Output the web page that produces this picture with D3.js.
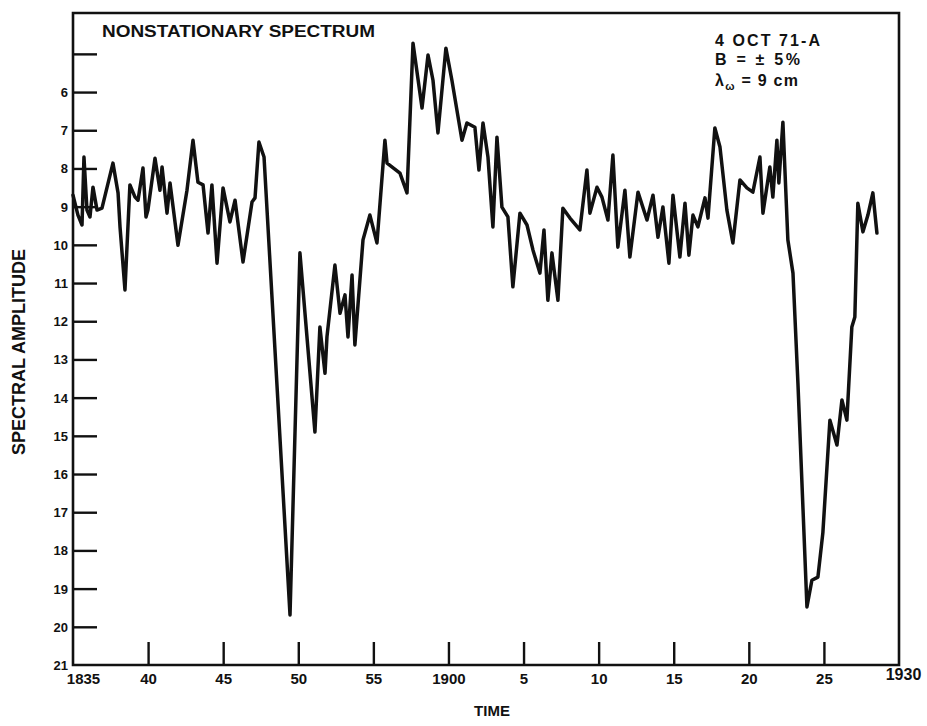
<!DOCTYPE html>
<html>
<head>
<meta charset="utf-8">
<script src="https://cdn.jsdelivr.net/npm/d3@7/dist/d3.min.js"></script>
<style>
  html, body { margin: 0; padding: 0; background: #fff; overflow: hidden; }
  svg { display: block; font-family: "Liberation Sans", Arial, sans-serif; }
</style>
</head>
<body>
<div id="chart"></div>
<script>
// minutes after 18:35
const times = [
  0, 0.33, 0.6, 0.73, 0.93, 1.13, 1.33, 1.6, 1.93, 2.66, 3.0, 3.13, 3.46, 3.79, 4.13, 4.33, 4.66, 4.86, 4.99,
  5.46, 5.79, 5.93, 6.26, 6.46, 6.99, 7.59, 7.99, 8.32, 8.66, 8.99, 9.25, 9.59, 9.99, 10.45, 10.79, 11.32,
  11.92, 12.12, 12.38, 12.72, 14.45, 15.11, 16.11, 16.44, 16.78, 16.91, 17.44, 17.78, 18.11, 18.31, 18.58,
  18.77, 19.31, 19.77, 20.24, 20.77, 20.91, 21.77, 22.24, 22.64, 23.24, 23.64, 23.97, 24.3, 24.83, 25.23,
  25.9, 26.23, 26.76, 27.03, 27.3, 27.63, 27.96, 28.23, 28.56, 28.96, 29.29, 29.76, 30.23, 30.63, 31.09,
  31.36, 31.62, 31.89, 32.29, 32.62, 33.09, 33.75, 34.22, 34.42, 34.89, 35.22, 35.62, 35.95, 36.28, 36.75,
  37.08, 37.62, 38.22, 38.62, 38.95, 39.28, 39.68, 39.95, 40.41, 40.75, 41.01, 41.28, 41.61, 42.08, 42.28,
  42.74, 43.08, 43.54, 43.94, 44.41, 44.87, 45.27, 45.74, 45.94, 46.4, 46.6, 46.87, 47.0, 47.27, 47.6,
  47.94, 48.27, 48.87, 49.2, 49.6, 49.93, 50.4, 50.87, 51.2, 51.53, 51.86, 52.06, 52.26, 52.6, 52.93,
  53.26, 53.53
];
const amplitude = [
  8.70, 9.22, 9.48, 7.70, 9.09, 9.27, 8.49, 9.09, 9.04, 7.86, 8.64, 9.53, 11.18, 8.43, 8.75, 8.83, 7.99, 9.27, 9.09,
  7.73, 8.57, 7.96, 9.17, 8.38, 10.01, 8.57, 7.26, 8.36, 8.43, 9.69, 8.43, 10.48, 8.51, 9.40, 8.83, 10.45,
  8.88, 8.77, 7.31, 7.70, 19.69, 10.21, 14.90, 12.15, 13.36, 12.41, 10.53, 11.79, 11.31, 12.41, 10.79,
  12.62, 9.87, 9.22, 9.95, 7.26, 7.86, 8.12, 8.64, 4.72, 6.42, 5.03, 5.69, 7.07, 4.85, 5.69,
  7.26, 6.81, 6.92, 8.04, 6.81, 7.70, 9.53, 7.18, 9.01, 9.27, 11.10, 9.17, 9.48, 10.14, 10.74,
  9.61, 11.45, 10.21, 11.45, 9.04, 9.30, 9.61, 8.04, 9.17, 8.49, 8.75, 9.35, 7.65, 10.06, 8.57,
  10.32, 8.62, 9.35, 8.70, 9.80, 9.01, 10.48, 8.70, 10.32, 8.91, 10.27, 9.22, 9.53, 8.77, 9.30,
  6.94, 7.44, 9.09, 9.95, 8.30, 8.51, 8.62, 7.70, 9.17, 7.96, 8.75, 7.26, 8.38, 6.79, 9.87,
  10.74, 13.62, 19.48, 18.78, 18.70, 17.54, 14.59, 15.24, 14.06, 14.59, 12.15, 11.89, 8.91, 9.66, 9.22,
  8.64, 9.69
];

const xTickValues = [0, 5, 10, 15, 20, 25, 30, 35, 40, 45, 50, 55];
const xTickLabels = ['1835', '40', '45', '50', '55', '1900', '5', '10', '15', '20', '25', '1930'];
const yTickValues = [5, 6, 7, 8, 9, 10, 11, 12, 13, 14, 15, 16, 17, 18, 19, 20];
const yLabelValues = [6, 7, 8, 9, 10, 11, 12, 13, 14, 15, 16, 17, 18, 19, 20, 21];

const title = 'NONSTATIONARY SPECTRUM';
const notes = ['4 OCT 71-A', 'B = \u00b1 5%'];

const width = 927, height = 726;
const margin = { top: 13, right: 28, bottom: 61, left: 73 };
const innerWidth = width - margin.left - margin.right;
const innerHeight = height - margin.top - margin.bottom;
const ink = '#111';

const svg = d3.select('#chart')
  .append('svg')
  .attr('width', width)
  .attr('height', height);

const g = svg.append('g')
  .attr('transform', `translate(${margin.left},${margin.top})`);

const x = d3.scaleLinear().domain([0, 55]).range([0, innerWidth]);
const y = d3.scaleLinear().domain([3.93, 21]).range([0, innerHeight]);

// y tick marks (pointing inward)
g.append('g')
  .attr('class', 'y-ticks')
  .call(d3.axisLeft(y).tickValues(yTickValues).tickSizeInner(-24).tickSizeOuter(0))
  .call(s => s.select('.domain').remove())
  .call(s => s.selectAll('text').remove())
  .selectAll('line')
  .attr('stroke', ink)
  .attr('stroke-width', 2.4);

// y tick labels
g.append('g')
  .attr('class', 'y-labels')
  .call(d3.axisLeft(y).tickValues(yLabelValues).tickSize(0).tickPadding(5).tickFormat(d3.format('d')))
  .call(s => s.select('.domain').remove())
  .call(s => s.selectAll('line').remove())
  .selectAll('text')
  .attr('fill', ink)
  .attr('font-family', null)
  .attr('dy', 4.5)
  .style('font-size', '13px')
  .style('font-weight', 'bold');

// x tick marks (pointing up)
g.append('g')
  .attr('class', 'x-ticks')
  .attr('transform', `translate(0,${innerHeight})`)
  .call(d3.axisBottom(x).tickValues(xTickValues.slice(1, -1)).tickSizeInner(-23).tickSizeOuter(0))
  .call(s => s.select('.domain').remove())
  .call(s => s.selectAll('text').remove())
  .selectAll('line')
  .attr('stroke', ink)
  .attr('stroke-width', 2.4);

// x tick labels
const xl = g.append('g')
  .attr('class', 'x-labels')
  .attr('transform', `translate(0,${innerHeight})`)
  .call(d3.axisBottom(x).tickValues(xTickValues).tickSize(0).tickPadding(8)
    .tickFormat((d, i) => xTickLabels[i]))
  .call(s => s.select('.domain').remove())
  .call(s => s.selectAll('line').remove());
xl.selectAll('text')
  .attr('fill', ink)
  .attr('font-family', null)
  .attr('y', 19)
  .attr('dy', null)
  .style('font-size', '15px')
  .style('font-weight', 'bold');
xl.selectAll('.tick').filter(d => d === 0).select('text').attr('dx', 10);
xl.selectAll('.tick')
  .filter(d => d === 55)
  .select('text')
  .attr('dx', 4)
  .attr('y', 15)
  .style('font-size', '16px');

// frame
g.append('path')
  .attr('d', `M0,0H${innerWidth}V${innerHeight}H0Z`)
  .attr('fill', 'none')
  .attr('stroke', ink)
  .attr('stroke-width', 2.6);

// series line
const line = d3.line()
  .x((d, i) => x(times[i]))
  .y(d => y(d));

g.append('path')
  .datum(amplitude)
  .attr('fill', 'none')
  .attr('stroke', ink)
  .attr('stroke-width', 3.5)
  .attr('stroke-linejoin', 'round')
  .attr('stroke-linecap', 'round')
  .attr('d', line);

// title
g.append('text')
  .attr('x', 29)
  .attr('y', 24)
  .attr('textLength', 273)
  .attr('lengthAdjust', 'spacingAndGlyphs')
  .style('font-size', '16px')
  .style('font-weight', 'bold')
  .attr('fill', ink)
  .text(title);

// annotation block
const noteWidths = [105, 85];
const note = g.append('g')
  .attr('transform', `translate(${642},0)`)
  .style('font-size', '16px')
  .style('font-weight', 'bold')
  .attr('fill', ink);

note.selectAll('text.n')
  .data(notes)
  .enter()
  .append('text')
  .attr('class', 'n')
  .attr('y', (d, i) => 33 + i * 19)
  .attr('textLength', (d, i) => noteWidths[i])
  .attr('lengthAdjust', 'spacing')
  .text(d => d);

const lam = note.append('text').attr('y', 73).attr('textLength', 83).attr('lengthAdjust', 'spacing');
lam.append('tspan').text('\u03bb');
lam.append('tspan').attr('dy', 4).style('font-size', '11px').text('\u03c9');
lam.append('tspan').attr('dy', -4).text(' = 9 cm');

// axis titles
svg.append('text')
  .attr('transform', `translate(25,${352}) rotate(-90)`)
  .attr('text-anchor', 'middle')
  .style('font-size', '18px')
  .style('font-weight', 'bold')
  .attr('fill', ink)
  .text('SPECTRAL AMPLITUDE');

svg.append('text')
  .attr('x', margin.left + x(27.9))
  .attr('y', 716)
  .attr('text-anchor', 'middle')
  .style('font-size', '15px')
  .style('font-weight', 'bold')
  .attr('fill', ink)
  .text('TIME');
</script>
</body>
</html>
